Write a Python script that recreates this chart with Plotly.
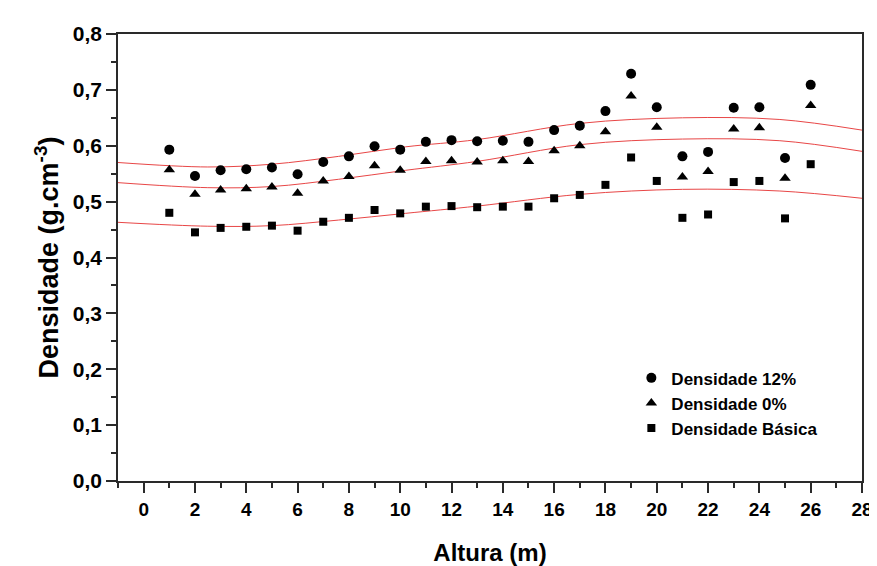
import plotly.graph_objects as go

# ---- data ----
altura = list(range(1, 27))
dens_12 = [0.593, 0.546, 0.556, 0.558, 0.561, 0.549, 0.571, 0.581, 0.599, 0.593,
           0.607, 0.610, 0.608, 0.609, 0.607, 0.628, 0.636, 0.662, 0.729, 0.669,
           0.581, 0.589, 0.668, 0.669, 0.578, 0.709]
dens_0 = [0.557, 0.513, 0.521, 0.523, 0.526, 0.515, 0.537, 0.545, 0.564, 0.556,
          0.572, 0.573, 0.571, 0.573, 0.572, 0.591, 0.600, 0.625, 0.689, 0.633,
          0.544, 0.554, 0.630, 0.632, 0.542, 0.672]
dens_basica = [0.480, 0.445, 0.453, 0.455, 0.457, 0.448, 0.464, 0.471, 0.485, 0.479,
               0.491, 0.492, 0.490, 0.491, 0.491, 0.506, 0.512, 0.530, 0.579, 0.537,
               0.471, 0.477, 0.535, 0.537, 0.470, 0.567]

# fitted (red) curves
fit_x = [-1, 2.5, 5, 7.6, 10.2, 13, 17, 21, 24.8, 28]
fit_12 = [0.570, 0.562, 0.567, 0.581, 0.598, 0.611, 0.640, 0.650, 0.647, 0.628]
fit_0 = [0.534, 0.525, 0.527, 0.540, 0.556, 0.572, 0.602, 0.612, 0.609, 0.590]
fit_b = [0.463, 0.456, 0.457, 0.467, 0.479, 0.492, 0.513, 0.522, 0.519, 0.506]

x_ticks = list(range(0, 29, 2))
y_ticks = [0.0, 0.1, 0.2, 0.3, 0.4, 0.5, 0.6, 0.7, 0.8]

FONT = "Liberation Sans, Arial, sans-serif"
RED = "rgb(232,70,70)"
AX = "#2a2a2a"

fig = go.Figure()

for fy in (fit_12, fit_0, fit_b):
    fig.add_trace(go.Scatter(x=fit_x, y=fy, mode="lines", showlegend=False,
                             line=dict(color=RED, width=1, shape="spline"),
                             hoverinfo="skip"))

series = [("Densidade 12%", dens_12, "circle", 10),
          ("Densidade 0%", dens_0, "triangle-up", 10),
          ("Densidade Básica", dens_basica, "square", 8)]
for i, (name, ys, sym, sz) in enumerate(series):
    fig.add_trace(go.Scatter(x=altura, y=ys, mode="markers", name=name,
                             legendgroup=f"g{i}",
                             marker=dict(symbol=sym, size=sz, color="black",
                                         line=dict(width=0))))

axis_common = dict(showline=True, linecolor=AX, linewidth=1.6, mirror=True,
                   showgrid=False, zeroline=False, ticks="outside", ticklen=10,
                   tickwidth=1.6, tickcolor=AX)

fig.update_xaxes(range=[-1, 28], tickvals=x_ticks,
                 ticktext=[str(v) for v in x_ticks],
                 tickfont=dict(family=FONT, size=19, color="black", weight="bold"),
                 minor=dict(dtick=1, tick0=0, ticks="outside", ticklen=5,
                            tickwidth=1.6, tickcolor=AX),
                 title=dict(text="Altura (m)", standoff=26,
                            font=dict(family=FONT, size=24, color="black", weight="bold")),
                 **axis_common)
fig.update_yaxes(range=[0, 0.8], tickvals=y_ticks,
                 ticktext=[f"{v:.1f}".replace(".", ",") for v in y_ticks],
                 tickfont=dict(family=FONT, size=21, color="black", weight="bold"),
                 minor=dict(dtick=0.05, tick0=0, ticks="outside", ticklen=5,
                            tickwidth=1.6, tickcolor=AX),
                 title=dict(text="Densidade (g.cm<sup>-3</sup>)", standoff=6,
                            font=dict(family=FONT, size=27, color="black", weight="bold")),
                 **axis_common)

fig.update_layout(
    width=877, height=566,
    margin=dict(l=110, r=13, t=26, b=83),
    paper_bgcolor="white", plot_bgcolor="white",
    legend=dict(x=0.69, y=0.27, xanchor="left", yanchor="top",
                bgcolor="rgba(0,0,0,0)", tracegroupgap=0,
                font=dict(family=FONT, size=17, color="black", weight="bold")),
)

fig.write_html("out.html")
